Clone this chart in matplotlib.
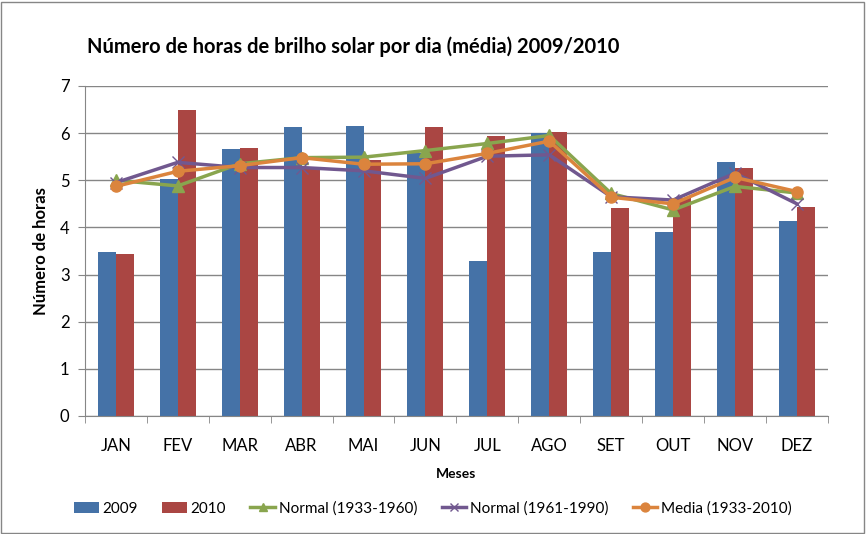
import numpy as np
import matplotlib
matplotlib.use("Agg")
from matplotlib import pyplot as plt

plt.rcParams['font.family'] = ['Lato', 'DejaVu Sans']

meses = ['JAN', 'FEV', 'MAR', 'ABR', 'MAI', 'JUN', 'JUL', 'AGO', 'SET', 'OUT', 'NOV', 'DEZ']
h2009 = [3.48, 5.03, 5.67, 6.12, 6.16, 5.58, 3.29, 6.00, 3.48, 3.91, 5.39, 4.14]
h2010 = [3.44, 6.48, 5.69, 5.25, 5.42, 6.12, 5.93, 6.03, 4.41, 4.62, 5.26, 4.44]
normal_1933_1960 = [5.00, 4.88, 5.35, 5.48, 5.49, 5.63, 5.78, 5.95, 4.72, 4.37, 4.87, 4.73]
normal_1961_1990 = [4.95, 5.38, 5.27, 5.27, 5.20, 5.04, 5.51, 5.54, 4.65, 4.58, 5.15, 4.50]
media_1933_2010 = [4.87, 5.19, 5.31, 5.48, 5.34, 5.35, 5.57, 5.83, 4.64, 4.50, 5.06, 4.76]

x = np.arange(len(meses))
w = 0.29

fig = plt.figure(figsize=(8.66, 5.34), dpi=100)
ax = fig.add_axes([0.098, 0.221, 0.858, 0.618])

b1 = ax.bar(x - w / 2, h2009, w, color='#4572a7', label='2009', zorder=2)
b2 = ax.bar(x + w / 2, h2010, w, color='#aa4643', label='2010', zorder=2)
l1, = ax.plot(x, normal_1933_1960, color='#89a54e', lw=2.5, marker='^', ms=8, label='Normal (1933-1960)', zorder=3)
l2, = ax.plot(x, normal_1961_1990, color='#71588f', lw=2.5, marker='x', ms=8, mew=1, label='Normal (1961-1990)', zorder=3)
l3, = ax.plot(x, media_1933_2010, color='#db843d', lw=2.5, marker='o', ms=8, label='Media (1933-2010)', zorder=4)

ax.set_xlim(-0.5, len(meses) - 0.5)
ax.set_ylim(0, 7)
ax.set_yticks(range(8))
ax.set_xticks(x)
ax.set_xticklabels(meses, fontsize=12)
ax.tick_params(axis='x', length=0, pad=16)
ax.set_xticks(np.arange(-0.5, len(meses)), minor=True)
ax.tick_params(axis='x', which='minor', length=5, color='#868686')
ax.tick_params(axis='y', labelsize=12, length=5, color='#868686', pad=6)
ax.grid(axis='y', color='#868686', lw=1, zorder=0)
for s in ['top', 'right']:
    ax.spines[s].set_visible(False)
for s in ['left', 'bottom']:
    ax.spines[s].set_color('#868686')

ax.set_xlabel('Meses', fontsize=10, fontweight='bold', labelpad=10)
ax.set_ylabel('Número de horas', fontsize=12, fontweight='bold', labelpad=8)
fig.text(0.1, 0.9, 'Número de horas de brilho solar por dia (média) 2009/2010',
         fontsize=14.5, fontweight='bold')

fig.legend([b1, b2, l1, l2, l3], [h.get_label() for h in [b1, b2, l1, l2, l3]],
           loc='center', bbox_to_anchor=(0.5, 0.048), ncol=5, frameon=False,
           fontsize=11, handlelength=1.6, columnspacing=1.6, handletextpad=0.25,
           markerscale=0.8)

fig.patches.append(plt.Rectangle((0.001, 0.002), 0.997, 0.995, transform=fig.transFigure,
                                 fill=False, edgecolor='#868686', lw=1))

fig.savefig('out.png', dpi=100)
